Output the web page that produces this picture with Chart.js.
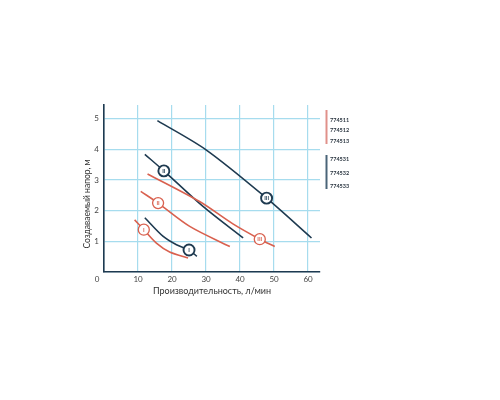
<!DOCTYPE html>
<html>
<head>
<meta charset="utf-8">
<script src="https://cdn.jsdelivr.net/npm/chart.js@4.4.1/dist/chart.umd.min.js"></script>
<style>
  body { margin: 0; background: #fff; }
</style>
</head>
<body>
<canvas id="pumpChart" width="500" height="400"></canvas>
<script>
// Кривые насосов: производительность (л/мин) и напор (м)
const flowRedI = [9.0, 11.7, 15.4, 19.3, 24.7];
const headRedI = [1.70, 1.38, 0.94, 0.65, 0.46];
const flowRedII = [10.8, 15.9, 25.2, 37.0];
const headRedII = [2.63, 2.25, 1.49, 0.83];
const flowRedIII = [12.8, 28.1, 37.9, 45.8, 50.2];
const headRedIII = [3.20, 2.30, 1.57, 1.07, 0.83];

const flowDarkI = [12.0, 17.4, 21.3, 25.0, 27.3];
const headDarkI = [1.77, 1.16, 0.89, 0.72, 0.51];
const flowDarkII = [12.0, 17.6, 29.1, 40.9];
const headDarkII = [3.84, 3.30, 2.14, 1.11];
const flowDarkIII = [15.7, 30.1, 47.8, 61.0];
const headDarkIII = [4.94, 3.98, 2.41, 1.11];

// индекс точки с меткой (I, II, III)
const markerIndex = [1, 1, 3, 3, 1, 2];
const markerText = ['I', 'II', 'III', 'I', 'II', 'III'];

const redModels = ['774511', '774512', '774513'];
const darkModels = ['774531', '774532', '774533'];

const xTicks = [0, 10, 20, 30, 40, 50, 60];
const yTicks = [0, 1, 2, 3, 4, 5];

const RED = '#d9614f';
const DARK = '#1e3a50';
const GRID = '#a6dcee';
const FONT = 'Lato, "Noto Sans", sans-serif';

function pts(xs, ys) {
    return xs.map((x, i) => ({ x: x, y: ys[i] }));
}

const series = [
    [flowRedI, headRedI, RED],
    [flowRedII, headRedII, RED],
    [flowRedIII, headRedIII, RED],
    [flowDarkI, headDarkI, DARK],
    [flowDarkII, headDarkII, DARK],
    [flowDarkIII, headDarkIII, DARK]
];

const datasets = series.map((s, k) => ({
    data: pts(s[0], s[1]),
    borderColor: s[2],
    borderWidth: 1.6,
    tension: 0.3,
    pointRadius: ctx => ctx.dataIndex === markerIndex[k] ? 5.5 : 0,
    pointBackgroundColor: '#fff',
    pointBorderColor: s[2],
    pointBorderWidth: k >= 3 ? 1.9 : 1.3,
    pointHoverRadius: 0
}));

const extras = {
    id: 'extras',
    afterDatasetsDraw(chart) {
        const c = chart.ctx;
        c.save();
        c.textAlign = 'center';
        c.textBaseline = 'middle';
        chart.data.datasets.forEach((ds, k) => {
            const el = chart.getDatasetMeta(k).data[markerIndex[k]];
            c.fillStyle = ds.borderColor;
            c.font = 'bold 5.5px ' + FONT;
            c.fillText(markerText[k], el.x, el.y + 0.5);
        });
        c.restore();
    },
    afterDraw(chart) {
        const c = chart.ctx;
        c.save();
        // общий ноль в углу
        c.fillStyle = '#444';
        c.font = '8px ' + FONT;
        c.textAlign = 'center';
        c.textBaseline = 'middle';
        c.fillText('0', 97, 279);
        // подпись оси Y
        c.translate(87, 204);
        c.rotate(-Math.PI / 2);
        c.font = '8.5px ' + FONT;
        c.fillStyle = '#333';
        c.fillText('Создаваемый напор, м', 0, 0);
        c.restore();

        // легенда справа
        c.save();
        c.lineWidth = 2;
        c.strokeStyle = '#e0918a';
        c.beginPath(); c.moveTo(326.5, 110); c.lineTo(326.5, 144); c.stroke();
        c.strokeStyle = '#4a6478';
        c.beginPath(); c.moveTo(326.5, 155); c.lineTo(326.5, 189); c.stroke();
        c.fillStyle = '#2a3540';
        c.font = 'bold 5.5px ' + FONT;
        c.textBaseline = 'middle';
        redModels.forEach((m, i) => c.fillText(m, 330, 120 + i * 10.5));
        darkModels.forEach((m, i) => c.fillText(m, 330, 159.5 + i * 13.5));
        c.restore();
    }
};

new Chart(document.getElementById('pumpChart'), {
    type: 'line',
    data: { datasets: datasets },
    options: {
        responsive: false,
        animation: false,
        events: [],
        layout: { padding: { left: 82, right: 180, top: 105, bottom: 104 } },
        plugins: { legend: { display: false }, tooltip: { enabled: false } },
        scales: {
            x: {
                type: 'linear',
                min: 0,
                max: 63.5,
                afterFit: s => { s.height = 24; },
                afterBuildTicks: s => { s.ticks = xTicks.map(v => ({ value: v })); },
                ticks: {
                    padding: 3,
                    color: '#444',
                    font: { family: FONT, size: 8 },
                    callback: v => v === 0 ? '' : v
                },
                grid: { color: GRID, lineWidth: 1.2, drawTicks: false },
                border: { color: DARK, width: 1.6 },
                title: {
                    display: true,
                    text: 'Производительность, л/мин',
                    color: '#333',
                    font: { family: FONT, size: 9 },
                    padding: { top: 0, bottom: 0 }
                }
            },
            y: {
                min: 0,
                max: 5.45,
                afterFit: s => { s.width = 22; },
                afterBuildTicks: s => { s.ticks = yTicks.map(v => ({ value: v })); },
                ticks: {
                    padding: 5,
                    color: '#444',
                    font: { family: FONT, size: 8 },
                    callback: v => v === 0 ? '' : v
                },
                grid: { color: GRID, lineWidth: 1.2, drawTicks: false },
                border: { color: DARK, width: 1.6 }
            }
        }
    },
    plugins: [extras]
});
</script>
</body>
</html>
